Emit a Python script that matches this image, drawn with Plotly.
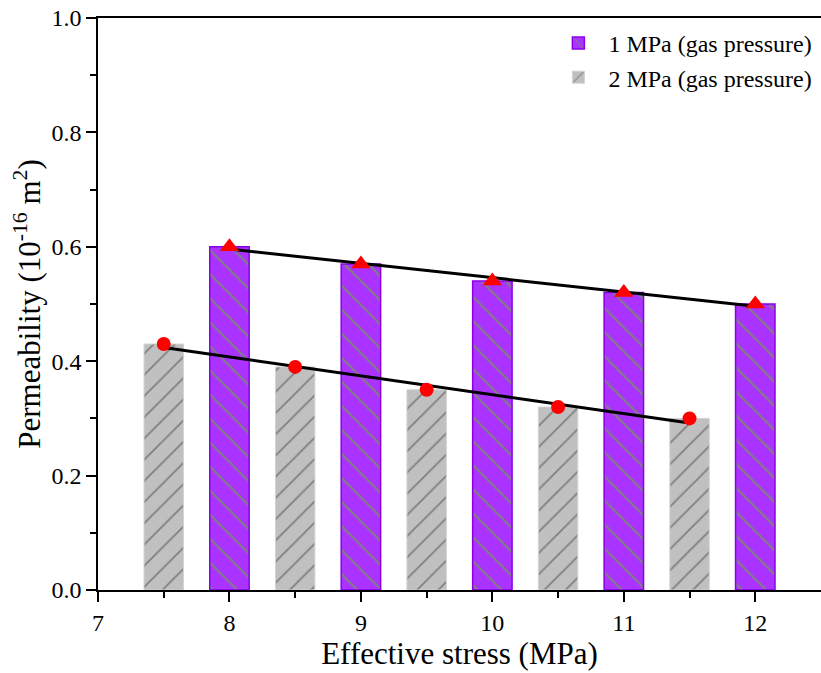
import numpy as np
import plotly.graph_objects as go

# Data
stress_1mpa = [8, 9, 10, 11, 12]
perm_1mpa = [0.60, 0.57, 0.54, 0.52, 0.50]
stress_2mpa = [7.5, 8.5, 9.5, 10.5, 11.5]
perm_2mpa = [0.43, 0.39, 0.35, 0.32, 0.30]
x_ticks = [7, 8, 9, 10, 11, 12]
y_ticks = [0.0, 0.2, 0.4, 0.6, 0.8, 1.0]

FONT = "Liberation Serif"

fig = go.Figure()

fig.add_trace(go.Bar(
    x=stress_1mpa, y=perm_1mpa, width=0.3, name="1 MPa (gas pressure)",
    marker=dict(color="#AA33FF", line=dict(color="#8A00E6", width=1.5),
                pattern=dict(shape="\\", fgcolor="#808080", fgopacity=1,
                             size=17, solidity=0.12, fillmode="overlay")),
))
fig.add_trace(go.Bar(
    x=stress_2mpa, y=perm_2mpa, width=0.3, name="2 MPa (gas pressure)",
    marker=dict(color="#C0C0C0", line=dict(color="#D3D3D3", width=1),
                pattern=dict(shape="/", fgcolor="#808080", fgopacity=1,
                             size=15, solidity=0.12, fillmode="overlay")),
))

# linear trend lines
for xs, ys in [(stress_1mpa, perm_1mpa), (stress_2mpa, perm_2mpa)]:
    k, b = np.polyfit(xs, ys, 1)
    xe = [xs[0], xs[-1]]
    fig.add_trace(go.Scatter(x=xe, y=[k * v + b for v in xe], mode="lines",
                             line=dict(color="black", width=3), showlegend=False,
                             hoverinfo="skip"))

fig.add_trace(go.Scatter(x=stress_1mpa, y=perm_1mpa, mode="markers", showlegend=False,
                         marker=dict(symbol="triangle-up", size=17, color="#FF0000")))
fig.add_trace(go.Scatter(x=stress_2mpa, y=perm_2mpa, mode="markers", showlegend=False,
                         marker=dict(symbol="circle", size=14, color="#FF0000")))

fig.update_layout(
    width=821, height=673,
    margin=dict(l=98, r=0, t=18, b=83),
    paper_bgcolor="white", plot_bgcolor="white",
    barmode="overlay",
    font=dict(family=FONT, color="black", size=24),
    showlegend=True,
    legend=dict(x=0.995, xanchor="right", y=0.995, yanchor="top",
                font=dict(family=FONT, size=24, color="black"), bgcolor="rgba(0,0,0,0)",
                traceorder="normal", tracegroupgap=0, itemwidth=50),
)

fig.update_xaxes(
    range=[7, 12.5], tickvals=x_ticks, ticktext=[str(v) for v in x_ticks],
    showgrid=False, zeroline=False, showline=True, linecolor="black", linewidth=1.5,
    mirror=True, ticks="outside", ticklen=10, tickwidth=1.5, tickcolor="black",
    minor=dict(tickvals=[7.5, 8.5, 9.5, 10.5, 11.5], ticks="outside", ticklen=6,
               tickwidth=1.5, tickcolor="black"),
    tickfont=dict(family=FONT, size=24, color="black"),
    title=dict(text="Effective stress (MPa)", font=dict(family=FONT, size=31, color="black"), standoff=4),
)
fig.update_yaxes(
    range=[0, 1.0], tickvals=y_ticks, ticktext=[f"{v:.1f}" for v in y_ticks],
    showgrid=False, zeroline=False, showline=True, linecolor="black", linewidth=1.5,
    mirror=False, ticks="outside", ticklen=10, tickwidth=1.5, tickcolor="black",
    minor=dict(tickvals=[0.1, 0.3, 0.5, 0.7, 0.9], ticks="outside", ticklen=6,
               tickwidth=1.5, tickcolor="black"),
    tickfont=dict(family=FONT, size=24, color="black"),
    title=dict(text="Permeability (10<sup>-16</sup> m<sup>2</sup>)",
               font=dict(family=FONT, size=31, color="black"), standoff=2),
)

fig.write_html("out.html")
